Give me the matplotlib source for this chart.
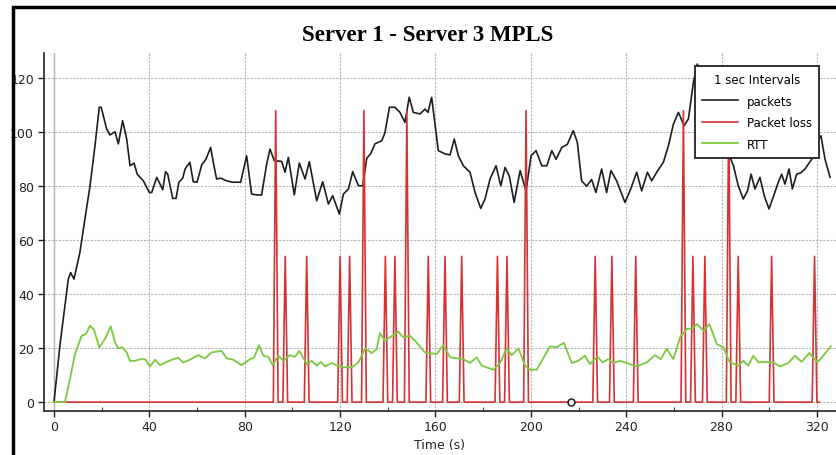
import numpy as np
import matplotlib
matplotlib.use('Agg')
import matplotlib.pyplot as plt
from matplotlib.patches import Rectangle

# packets (black)
pk_t = [0, 2.5, 6.0, 7.0, 8.4, 10.9, 13.0, 15.1, 17.2, 19.0, 19.8, 22.1, 23.5, 25.6, 27.0,
        28.8, 30.5, 31.9, 33.6, 34.9, 37.5, 40.0, 41.0, 43.1, 44.5, 45.6, 46.8, 47.7, 49.8,
        51.2, 52.4, 54.0, 55.0, 57.0, 58.4, 60.0, 62.0, 63.8, 65.7, 66.8, 68.2, 70.0, 72.4,
        75.0, 78.3, 80.8, 82.9, 85.0, 87.1, 89.2, 90.6, 92.4, 95.5, 96.9, 98.3, 100.8, 102.9,
        105.3, 107.1, 110.2, 112.7, 115.1, 116.9, 119.7, 121.4, 123.5, 125.3, 127.7, 129.5,
        131.2, 132.8, 134.6, 137.5, 138.8, 140.7, 143.0, 145.1, 147.2, 149.0, 150.7, 153.5,
        155.6, 156.9, 158.4, 161.2, 164.0, 166.1, 167.9, 169.6, 171.7, 174.5, 176.6, 179.0,
        180.8, 182.9, 185.4, 187.4, 189.2, 191.0, 193.0, 195.5, 198.0, 200.1, 202.2, 204.6,
        206.7, 208.8, 210.6, 213.0, 215.3, 217.8, 219.5, 221.3, 223.4, 225.5, 227.3, 229.7,
        231.8, 233.6, 236.0, 239.5, 241.9, 244.4, 246.5, 248.9, 250.7, 252.8, 255.6, 257.7,
        259.8, 261.9, 264.3, 266.1, 268.2, 269.8, 272.0, 275.0, 278.0, 281.0, 283.6, 285.0,
        287.0, 289.1, 290.9, 292.4, 294.0, 296.1, 297.9, 299.9, 302.1, 303.8, 305.2, 306.6,
        308.3, 309.7, 311.5, 313.3, 315.0, 317.8, 319.9, 321.7, 323.4, 325.5]
pk_v = [0, 21, 45.6, 48, 45.6, 55.6, 68, 80, 95, 109.3, 109.3, 101.2, 99, 100.2, 95.7,
        104.3, 97.5, 87.6, 88.6, 84.5, 82, 77.7, 77.7, 83.3, 80.8, 78.7, 85.4, 84.5, 75.5,
        75.5, 81.5, 83, 86.4, 88.9, 81.7, 81.5, 88, 90.1, 94.4, 89, 82.7, 83, 82,
        81.5, 81.5, 91.3, 77.1, 76.8, 76.8, 88.2, 93.8, 89.5, 89.2, 85.2, 90.7, 76.8, 88.6,
        82.7, 89.1, 74.6, 81.7, 73.4, 76.5, 69.7, 77.1, 79, 85.4, 80.2, 80.2,
        90.4, 92, 95.7, 96.9, 99.8, 109.3, 109.3, 107.4, 103.7, 113, 107.4, 106.8,
        108.6, 107.4, 113, 93.2, 92, 91.6, 97.5, 91.3, 87.6, 85.2, 77.7, 71.8,
        75.3, 82.7, 87.6, 80.2, 87, 83.7, 74, 85.8, 78.3, 91.3, 93.2, 87.6,
        87.6, 93.2, 90, 94.4, 95.5, 100.6, 96.3, 82, 80, 82.5, 77.7, 86.4,
        77.7, 85.8, 82, 74, 79, 85.2, 78.3, 85.2, 82, 85.2, 88.9, 95,
        103, 107.4, 102.4, 105, 118.5, 125.3, 119, 112, 104, 96, 90.7, 87.6,
        80.2, 75.3, 78.3, 84.5, 79, 83.3, 76.5, 71.6, 77.1, 81.5, 84.5, 80.8,
        86.4, 79, 84.5, 85, 86.4, 90, 96.3, 98.7, 90, 83.3]

# RTT (green)
rtt_t = [0, 4.6, 6.7, 8.8, 11.6, 13.4, 15.1, 16.8, 19.0, 21.4, 23.8, 25.6, 27.0, 28.8, 30.5,
         31.9, 34.0, 36.1, 38.2, 40.3, 42.4, 44.5, 47.3, 50.0, 52.2, 54.2, 57.0, 60.5, 63.3,
         66.1, 70.3, 72.4, 75.2, 78.7, 82.2, 83.9, 86.0, 87.8, 89.9, 91.7, 94.1, 96.2, 99.0,
         101.1, 102.9, 106.0, 108.1, 110.2, 111.9, 113.7, 116.5, 118.8, 121.4, 124.9, 127.7,
         130.5, 133.3, 135.4, 136.7, 138.8, 140.9, 144.4, 146.5, 149.3, 152.1, 155.6, 160.5,
         163.3, 166.1, 171.7, 174.5, 177.3, 179.4, 184.3, 187.1, 189.9, 192.0, 194.8, 197.6,
         199.7, 202.5, 208.1, 210.6, 213.9, 217.2, 219.9, 222.7, 224.8, 228.0, 230.1, 232.5,
         234.6, 237.4, 240.2, 244.4, 248.6, 252.1, 254.5, 257.0, 259.8, 262.6, 265.4, 267.5,
         269.8, 272.4, 274.9, 278.0, 280.8, 283.3, 287.0, 289.1, 291.2, 293.3, 295.5, 298.2,
         301.7, 304.5, 308.0, 310.8, 313.6, 316.8, 320.2, 322.7, 325.8]
rtt_v = [0, 0, 8.5, 17.8, 24.6, 25.2, 28.3, 26.8, 20.3, 23.4, 28.1, 22.1, 19.9, 20.3, 18.4,
         15.3, 15.3, 15.9, 15.9, 13.2, 15.7, 13.7, 14.9, 15.9, 16.4, 14.7, 15.7, 17.4, 16.2,
         18.4, 19, 16.2, 15.7, 13.7, 15.9, 16.4, 21.1, 17.2, 16.8, 13.7, 17.2, 15.3, 17.4,
         16.8, 19, 14.1, 15.3, 13.5, 14.9, 13.2, 14.5, 13.5, 12.9, 12.9, 14.7,
         19.9, 18.2, 19.7, 25.6, 22.7, 24, 26.1, 24, 24.6, 22.1, 18.4, 17.8,
         21.1, 16.6, 15.9, 14.5, 16.6, 13.5, 12, 14.5, 19.9, 17.4, 19.9, 13.5,
         12, 12, 20.7, 20.3, 21.9, 14.5, 15.3, 17.2, 14.1, 16.9, 14.7, 15.9,
         14.5, 15.3, 14.5, 13.2, 14.7, 17.4, 15.9, 19.7, 15.9, 24, 27.1, 27.3,
         28.9, 26.4, 28.9, 21.5, 20.3, 14.9, 13.5, 15.3, 13.5, 17.2, 14.7, 14.9,
         14.7, 13.2, 14.5, 17.2, 14.9, 18.2, 14.7, 17.2, 20.7]

# packet loss spikes (red): second and height, zero elsewhere
loss_t = [93, 97, 106, 120, 124, 130, 139, 143, 148, 157, 164, 171, 186, 190, 198,
          227, 234, 244, 264, 268, 273, 283, 287, 301, 319]
loss_h = [108, 54, 54, 54, 54, 108, 54, 54, 108, 54, 54, 54, 54, 54, 108,
          54, 54, 54, 108, 54, 54, 108, 54, 54, 54]

marker_t = [217]
marker_v = [0]

secs = np.arange(0, 322)
loss = np.zeros(len(secs))
loss[loss_t] = loss_h

plt.rcParams['font.family'] = 'DejaVu Sans'
fig = plt.figure(figsize=(8.36, 4.56), dpi=100)
ax = fig.add_axes([0.0523, 0.0971, 0.9477, 0.7845])

ax.plot(pk_t, pk_v, color='#1e1e1e', lw=1.2, label='packets')
ax.plot(secs, loss, color='#d63232', lw=1.2, label='Packet loss')
ax.plot(rtt_t, rtt_v, color='#7cc840', lw=1.3, label='RTT')
ax.plot(marker_t, marker_v, 'o', ms=5, mfc='white', mec='#222222', mew=1.1)

ax.set_xlim(-4.3, 328)
ax.set_ylim(-3.2, 129.4)
ax.set_xticks(np.arange(0, 321, 40))
ax.set_xticks(np.arange(20, 321, 40), minor=True)
ax.set_yticks(np.arange(0, 121, 20))
ax.grid(True, color='#b4b4b4', linestyle=(0, (2, 1.2)), lw=0.8)
ax.axvline(0, color='#b8b8b8', lw=1.0, zorder=0)
for s in ['top', 'right']:
    ax.spines[s].set_visible(False)
for s in ['left', 'bottom']:
    ax.spines[s].set_color('#222222')
    ax.spines[s].set_linewidth(1.2)
ax.tick_params(axis='both', which='major', direction='out', length=4, width=1,
               labelsize=9, colors='#222222', pad=3)
ax.tick_params(axis='x', which='minor', direction='in', length=3, width=0.8, colors='#444444')
ax.set_xlabel('Time (s)', fontsize=9, color='#222222', labelpad=3)

fig.text(0.511, 0.922, 'Server 1 - Server 3 MPLS', ha='center', va='center',
         fontsize=16.5, fontweight='bold', family='Liberation Serif')

leg = ax.legend(title='1 sec Intervals', loc='upper left',
                bbox_to_anchor=(695 / 836, 1 - 67 / 456), bbox_transform=fig.transFigure,
                fontsize=8.5, title_fontsize=8.5, fancybox=False, framealpha=1,
                edgecolor='#222222', handlelength=3.0, handletextpad=0.8,
                labelspacing=0.72, borderpad=0.6, borderaxespad=0)
leg.get_frame().set_linewidth(1.3)

fig.patches.append(Rectangle((13 / 836, -0.05), 1.2, 1 - 8 / 456 + 0.05,
                             transform=fig.transFigure, fill=False,
                             edgecolor='black', lw=2.5, zorder=10))

fig.savefig('out.png', dpi=100)
